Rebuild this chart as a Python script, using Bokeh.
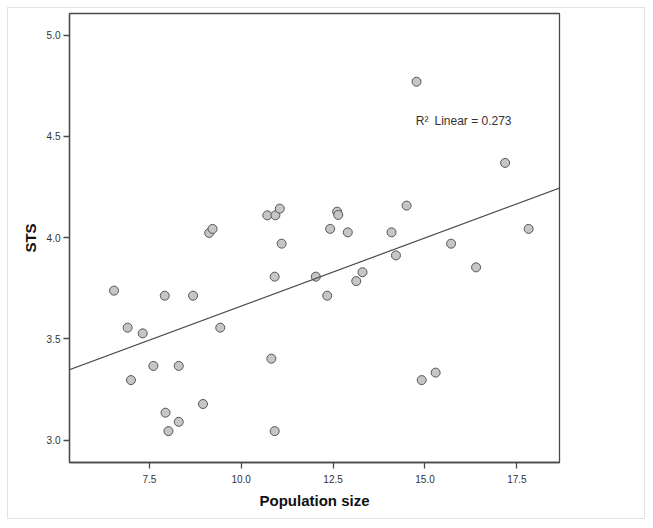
import numpy as np
from bokeh.plotting import figure
from bokeh.models import Range1d, FixedTicker, NumeralTickFormatter, Slope, Label
from bokeh.embed import file_html
from bokeh.resources import INLINE

# Data
population_size = [6.54, 6.91, 7.32, 7.00, 7.61, 7.92, 8.69, 8.30, 9.43, 7.94,
                   8.30, 8.02, 8.96, 10.82, 10.91, 10.91, 12.03, 12.34, 9.13, 9.22,
                   10.71, 10.93, 11.05, 11.10, 12.42, 14.77, 17.18, 14.50, 12.61, 12.64,
                   12.90, 14.09, 15.71, 17.82, 14.21, 16.39, 13.30, 13.13, 14.91, 15.29]
sts = [3.738, 3.555, 3.527, 3.296, 3.366, 3.713, 3.713, 3.366, 3.555, 3.135,
       3.090, 3.044, 3.178, 3.402, 3.044, 3.807, 3.807, 3.713, 4.023, 4.043,
       4.110, 4.110, 4.143, 3.970, 4.043, 4.770, 4.369, 4.158, 4.128, 4.112,
       4.026, 4.026, 3.970, 4.043, 3.912, 3.853, 3.829, 3.785, 3.296, 3.333]
x_ticks = [7.5, 10.0, 12.5, 15.0, 17.5]
y_ticks = [3.0, 3.5, 4.0, 4.5, 5.0]
r2_text = "R\u00b2\u2002Linear = 0.273"

slope, intercept = np.polyfit(population_size, sts, 1)

p = figure(width=638, height=512, output_backend="svg", toolbar_location=None,
           x_range=Range1d(5.328, 18.66), y_range=Range1d(2.889, 5.107))
p.styles = {"border": "1px solid #e2e2e2", "box-sizing": "border-box"}
p.margin = (7, 0, 0, 7)
p.min_border_left = 61
p.min_border_right = 87
p.min_border_top = 5
p.min_border_bottom = 58
p.background_fill_color = "white"
p.border_fill_color = "white"
p.outline_line_color = "#4a4a4a"
p.outline_line_width = 1.3
p.xgrid.visible = False
p.ygrid.visible = False

for ax, ticks in ((p.xaxis[0], x_ticks), (p.yaxis[0], y_ticks)):
    ax.ticker = FixedTicker(ticks=ticks)
    ax.formatter = NumeralTickFormatter(format="0.0")
    ax.axis_line_color = "#4a4a4a"
    ax.axis_line_width = 1.3
    ax.major_tick_line_color = "#4a4a4a"
    ax.major_tick_line_width = 1.3
    ax.major_tick_in = 0
    ax.major_tick_out = 6
    ax.minor_tick_line_color = None
    ax.major_label_text_font = "Liberation Sans"
    ax.major_label_text_font_size = "10px"
    ax.major_label_text_color = "#333333"
    ax.axis_label_text_font = "Liberation Sans"
    ax.axis_label_text_font_size = "15px"
    ax.axis_label_text_font_style = "bold"
    ax.axis_label_text_color = "#111111"

p.xaxis.axis_label = "Population size"
p.yaxis.axis_label = "STS"
p.xaxis.major_label_standoff = 6
p.yaxis.major_label_standoff = 3
p.xaxis.axis_label_standoff = 6
p.yaxis.axis_label_standoff = 5

p.add_layout(Slope(gradient=slope, y_intercept=intercept,
                   line_color="#4a4a4a", line_width=1.2))

p.scatter(population_size, sts, size=9, marker="circle",
          fill_color="#c6c6c6", line_color="#555555", line_width=1)

p.add_layout(Label(x=14.75, y=4.578, text=r2_text, text_font="Liberation Sans",
                   text_font_size="12px", text_color="#333333",
                   text_baseline="middle", text_align="left"))

open("out.html", "w").write(file_html(p, INLINE))
